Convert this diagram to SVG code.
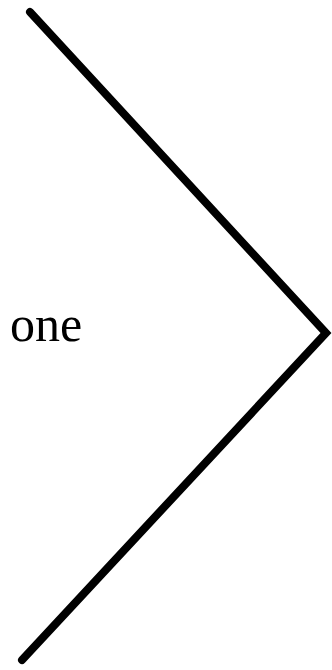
<svg xmlns="http://www.w3.org/2000/svg" width="332" height="670" viewBox="0 0 332 670">
<style>
.edge{fill:none;stroke:#000;stroke-width:8;stroke-linecap:round;stroke-linejoin:miter}
.lbl{font-family:"Liberation Serif","Times New Roman",serif;font-size:50px;fill:#000}
</style>
<rect width="332" height="670" fill="#fff"/>
<g id="connectors">
<polyline class="edge" points="30,12 326,333 22,660"/>
</g>
<g id="node-one">
<text class="lbl" x="10" y="341">one</text>
</g>
</svg>
